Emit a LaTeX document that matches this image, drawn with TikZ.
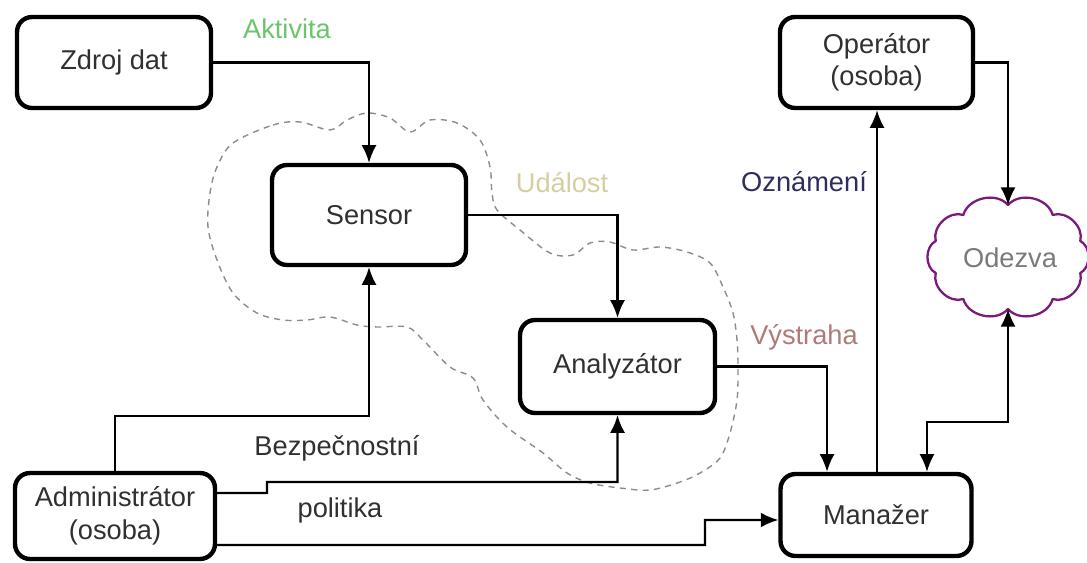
\documentclass[tikz,border=0pt]{standalone}
\usepackage{fontspec}
\setmainfont{Liberation Sans}
\usetikzlibrary{arrows.meta,calc}
\definecolor{txt}{HTML}{303030}
\definecolor{cgreen}{HTML}{6CC46C}
\definecolor{ckhaki}{HTML}{D6CEA0}
\definecolor{cnavy}{HTML}{2E2E5E}
\definecolor{crose}{HTML}{B07A7A}
\definecolor{cpurple}{HTML}{7A1A7A}
\definecolor{cdash}{HTML}{8C8C8C}
\definecolor{cgray}{HTML}{7A7A7A}
\begin{document}
\begin{tikzpicture}[x=0.02cm,y=-0.02cm,
  box/.style={draw=black, line width=2.5pt, rounded corners=0.3cm, text=txt, align=center, inner sep=0pt, font=\fontsize{15.5}{18.5}\selectfont},
  conn/.style={line width=1.2pt, -{Latex[length=10pt,width=8.5pt]}},
  both/.style={line width=1.2pt, {Latex[length=10pt,width=8.5pt]}-{Latex[length=10pt,width=8.5pt]}},
  lbl/.style={font=\fontsize{15.5}{18.5}\selectfont, inner sep=0pt},
  cloudline/.style={draw=cpurple, line width=1.3pt, line cap=round},
  zone/.style={draw=cdash, line width=0.8pt, dash pattern=on 3.5pt off 3pt}]
\useasboundingbox (0,0) rectangle (1087,563);

% dashed zone
\draw[zone] plot[smooth cycle, tension=0.55] coordinates {
(233,143)(273,125)(300,122)(330,130)(347,120)(367,113)(390,118)(410,132)(430,120)(457,123)(480,140)(490,167)(492,193)(497,210)(520,230)(550,253)(573,255)(590,243)(610,242)(633,250)(660,247)(687,252)(710,263)(723,287)(733,313)(737,340)(738,367)(737,400)(730,433)(720,458)(700,473)(680,482)(650,490)(620,488)(590,483)(567,473)(543,453)(507,427)(483,400)(473,378)(450,367)(423,340)(407,327)(377,327)(357,325)(330,317)(307,320)(283,320)(257,313)(233,293)(217,260)(208,227)(210,193)(217,167)};

% boxes
\node[box, minimum width=3.88cm, minimum height=1.82cm] (zdroj) at (114,62.5) {Zdroj dat};
\node[box, minimum width=3.88cm, minimum height=2.0cm] (sensor) at (369,215) {Sensor};
\node[box, minimum width=3.9cm, minimum height=1.86cm] (analyz) at (617.5,366.5) {Analyzátor};
\node[box, minimum width=3.86cm, minimum height=1.82cm] (oper) at (876.5,62.5) {Operátor\\(osoba)};
\node[box, minimum width=3.82cm, minimum height=1.64cm] (manazer) at (876,515) {Manažer};
\node[box, minimum width=4.0cm, minimum height=1.72cm] (admin) at (115,516) {Administrátor\\(osoba)};

% cloud
\coordinate (odc) at (1008,257);
\foreach \i in {0,...,9}{
  \pgfmathsetmacro\aa{90+36*\i}
  \pgfmathsetmacro\bb{126+36*\i}
  \draw[cloudline] ($(odc)+(\aa:1.52cm and 1.04cm)$) to[bend right=62] ($(odc)+(\bb:1.52cm and 1.04cm)$);
}
\node[lbl, text=cgray] (odezva) at (1010,258) {Odezva};
\coordinate (odtop) at ($(odc)+(0,1.04cm)$);
\coordinate (odbot) at ($(odc)+(0,-1.04cm)$);

% connectors
\draw[conn] (zdroj.east) -| (sensor.north);
\draw[conn] (sensor.east) -| (analyz.north);
\draw[conn] (analyz.east) -| ([xshift=-0.98cm]manazer.north);
\draw[conn] ([xshift=0.02cm]manazer.north) -- ([xshift=0.02cm]manazer.north |- oper.south);
\draw[conn] (oper.east) -| (odtop);
\draw[both] (odbot) -- (1008,422) -| ([xshift=1.02cm]manazer.north);
\draw[conn] (admin.north) -- (115,416) -| (sensor.south);
\draw[conn] ([yshift=0.46cm]admin.east) -- (267,493) -- (267,482) -| (analyz.south);
\draw[conn] ([yshift=-0.58cm]admin.east) -- (705,545) -- (705,520) -- ([yshift=-0.1cm]manazer.west);

% labels
\node[lbl, text=cgreen] (aktivita) at (287,29) {Aktivita};
\node[lbl, text=ckhaki] (udalost) at (562,183) {Událost};
\node[lbl, text=cnavy] (oznameni) at (804,182) {Oznámení};
\node[lbl, text=crose] (vystraha) at (804,337) {Výstraha};
\node[lbl, text=txt] (bezp) at (337,448) {Bezpečnostní};
\node[lbl, text=txt] (politika) at (340,510) {politika};
\end{tikzpicture}
\end{document}
